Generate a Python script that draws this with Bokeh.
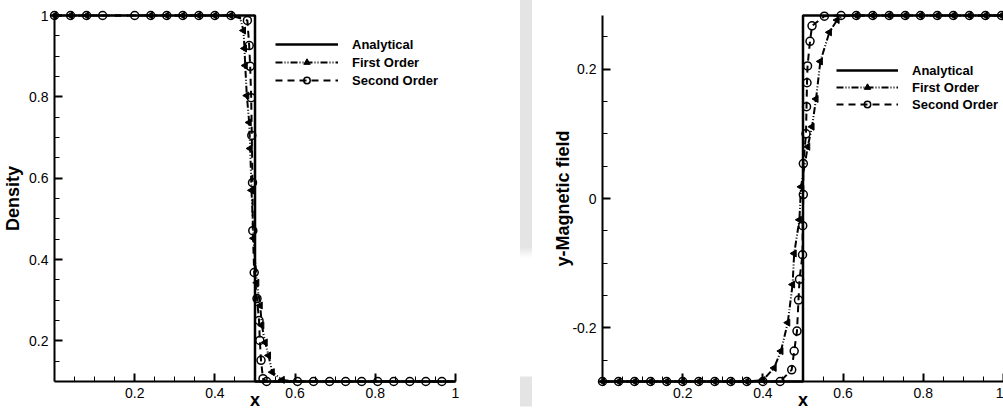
import numpy as np
from bokeh.plotting import figure
from bokeh.models import (Range1d, FixedTicker, CustomJSTickFormatter, Legend, LegendItem,
                          ColumnDataSource, CDSView, IndexFilter, Div)
from bokeh.layouts import row
from bokeh.embed import file_html
from bokeh.resources import INLINE

FONT = "Liberation Sans"

# ---------------- data: left panel (density) ----------------
x_dens_exact = [0.0, 0.5, 0.5, 1.0]
dens_exact = [1.0, 1.0, 0.1, 0.1]

x_dens_1 = [0.0, 0.04, 0.08, 0.12, 0.16, 0.20, 0.24, 0.28, 0.32, 0.36, 0.40, 0.44,
            0.462, 0.4713, 0.4738, 0.4756, 0.4796, 0.4855, 0.488, 0.4913, 0.4963,
            0.5045, 0.513, 0.517, 0.5254, 0.5337, 0.543, 0.568, 0.60, 1.0]
dens_1 = [1.0, 1.0, 1.0, 1.0, 1.0, 1.0, 1.0, 1.0, 1.0, 1.0, 1.0, 1.0,
          0.997, 0.963, 0.919, 0.877, 0.803, 0.737, 0.673, 0.570, 0.452,
          0.343, 0.287, 0.238, 0.196, 0.164, 0.123, 0.104, 0.1, 0.1]
dens_1_marks = [0, 1, 2, 6, 7, 8, 9, 10, 11, 13, 14, 15, 16, 17, 18, 19, 20,
                21, 22, 23, 24, 25, 26, 27]

x_dens_2 = [0.0, 0.04, 0.08, 0.12, 0.20, 0.24, 0.28, 0.32, 0.36, 0.40, 0.44,
            0.481, 0.4855, 0.488, 0.4905, 0.492, 0.4938, 0.4945, 0.498, 0.505,
            0.51, 0.512, 0.515, 0.52, 0.529,
            0.606, 0.646, 0.686, 0.726, 0.766, 0.806, 0.846, 0.886, 0.926, 0.966]
dens_2 = [1.0, 1.0, 1.0, 1.0, 1.0, 1.0, 1.0, 1.0, 1.0, 1.0, 1.0,
          0.988, 0.926, 0.875, 0.798, 0.705, 0.589, 0.471, 0.368, 0.304,
          0.25, 0.201, 0.152, 0.107, 0.1,
          0.1, 0.1, 0.1, 0.1, 0.1, 0.1, 0.1, 0.1, 0.1, 0.1]

# ---------------- data: right panel (y-magnetic field) ----------------
x_by_exact = [0.0, 0.5, 0.5, 1.0]
by_exact = [-0.283, -0.283, 0.283, 0.283]

x_by_1 = [0.0, 0.04, 0.08, 0.12, 0.16, 0.20, 0.24, 0.28, 0.32, 0.36,
          0.40, 0.428, 0.445, 0.462, 0.474, 0.478, 0.491, 0.495, 0.5118, 0.5225,
          0.5325, 0.5433, 0.5658, 0.585, 0.60,
          0.633, 0.674, 0.715, 0.755, 0.793, 0.835, 0.875, 0.915, 0.955, 0.995]
by_1 = [-0.283, -0.283, -0.283, -0.283, -0.283, -0.283, -0.283, -0.283, -0.283, -0.283,
        -0.281, -0.262, -0.236, -0.192, -0.133, -0.085, -0.033, 0.018, 0.080, 0.111,
        0.154, 0.212, 0.257, 0.276, 0.282,
        0.283, 0.283, 0.283, 0.283, 0.283, 0.283, 0.283, 0.283, 0.283, 0.283]
by_1_marks = [i for i in range(35) if i != 24]

x_by_2 = [0.0, 0.04, 0.08, 0.12, 0.16, 0.20, 0.24, 0.28, 0.32, 0.36, 0.40, 0.443,
          0.4718, 0.478, 0.485, 0.4888, 0.4913, 0.4988, 0.4993, 0.5008, 0.5008,
          0.5075, 0.5088, 0.51, 0.5113, 0.5175, 0.5225, 0.5533, 0.595,
          0.633, 0.674, 0.715, 0.755, 0.793, 0.835, 0.875, 0.915, 0.955, 0.995]
by_2 = [-0.283, -0.283, -0.283, -0.283, -0.283, -0.283, -0.283, -0.283, -0.283, -0.283, -0.283, -0.283,
        -0.265, -0.236, -0.205, -0.157, -0.125, -0.087, -0.042, 0.006, 0.054,
        0.100, 0.142, 0.179, 0.205, 0.243, 0.267, 0.282, 0.283,
        0.283, 0.283, 0.283, 0.283, 0.283, 0.283, 0.283, 0.283, 0.283, 0.283]

# ---------------- ticks ----------------
x_major = [0.2, 0.4, 0.6, 0.8, 1.0]
x_minor = [0.05, 0.1, 0.15, 0.25, 0.3, 0.35, 0.45, 0.5, 0.55, 0.65, 0.7, 0.75, 0.85, 0.9, 0.95]
dens_major = [0.2, 0.4, 0.6, 0.8, 1.0]
dens_minor = [0.15, 0.25, 0.3, 0.35, 0.45, 0.5, 0.55, 0.65, 0.7, 0.75, 0.85, 0.9, 0.95]
by_major = [-0.2, 0.0, 0.2]
by_minor = [-0.25, -0.15, -0.1, -0.05, 0.05, 0.1, 0.15, 0.25]

FMT = "return String(Math.round(tick*100)/100);"


def style_axis(ax, major, minor, label, label_standoff):
    ax.ticker = FixedTicker(ticks=major, minor_ticks=minor)
    ax.formatter = CustomJSTickFormatter(code=FMT)
    ax.axis_line_width = 2
    ax.axis_line_color = "black"
    ax.major_tick_in = 8
    ax.major_tick_out = 0
    ax.minor_tick_in = 5
    ax.minor_tick_out = 0
    ax.major_tick_line_width = 2
    ax.minor_tick_line_width = 1
    ax.major_tick_line_color = "black"
    ax.minor_tick_line_color = "black"
    ax.major_label_text_font = FONT
    ax.major_label_text_font_size = "14px"
    ax.major_label_text_color = "black"
    ax.major_label_standoff = 6
    ax.axis_label = label
    ax.axis_label_text_font = FONT
    ax.axis_label_text_font_style = "bold"
    ax.axis_label_text_font_size = "18px"
    ax.axis_label_text_color = "black"
    ax.axis_label_standoff = label_standoff


def panel(width, xr, yr, borders, xs, ys, marks1, ylabel, ymaj, ymin, ylab_standoff, leg_loc,
          glyph_w, leg_spacing):
    left, right, top, bottom = borders
    p = figure(width=width, height=412, x_range=Range1d(*xr), y_range=Range1d(*yr),
               output_backend="svg", toolbar_location=None, title=None,
               min_border_left=left, min_border_right=right,
               min_border_top=top, min_border_bottom=bottom)
    p.grid.visible = False
    p.outline_line_color = None
    p.background_fill_color = "white"
    p.border_fill_color = "white"

    (xe, x1, x2) = xs
    (ye, y1, y2) = ys

    se = ColumnDataSource(dict(x=xe, y=ye))
    s1 = ColumnDataSource(dict(x=x1, y=y1))
    s2 = ColumnDataSource(dict(x=x2, y=y2))

    r_e = p.line("x", "y", source=se, line_color="black", line_width=2.5)
    r_1 = p.line("x", "y", source=s1, line_color="black", line_width=2,
                 line_dash="7 2 1 2 1 2")
    r_2 = p.line("x", "y", source=s2, line_color="black", line_width=2,
                 line_dash="7 5")
    r_2m = p.scatter("x", "y", source=s2, marker="circle", size=8,
                     fill_alpha=0, line_color="black", line_width=1.5)
    r_1m = p.scatter("x", "y", source=s1, view=CDSView(filter=IndexFilter(indices=marks1)),
                     marker="triangle", angle=1.5707963, angle_units="rad", size=7,
                     fill_color="black", line_color="black", line_width=1)
    for r in (r_e, r_1, r_2, r_2m, r_1m):
        r.level = "overlay"

    style_axis(p.xaxis[0], x_major, x_minor, "x", -11)
    style_axis(p.yaxis[0], ymaj, ymin, ylabel, ylab_standoff)

    legend = Legend(items=[
        LegendItem(label="Analytical", renderers=[r_e]),
        LegendItem(label="First Order", renderers=[r_1, r_1m]),
        LegendItem(label="Second Order", renderers=[r_2, r_2m]),
    ], location=leg_loc)
    legend.glyph_width = glyph_w
    legend.glyph_height = 16
    legend.label_height = 16
    legend.label_standoff = 14
    legend.spacing = leg_spacing
    legend.padding = 0
    legend.margin = 0
    legend.border_line_alpha = 0
    legend.background_fill_alpha = 0
    legend.label_text_font = FONT
    legend.label_text_font_style = "bold"
    legend.label_text_font_size = "13px"
    legend.label_text_color = "black"
    p.add_layout(legend)
    return p


p1 = panel(520, (0.0, 1.0), (0.1, 1.0), (54, 65, 15, 31),
           (x_dens_exact, x_dens_1, x_dens_2), (dens_exact, dens_1, dens_2), dens_1_marks,
           "Density", dens_major, dens_minor, 3, (221, 293), 63, 2)

p2 = panel(471, (0.0, 1.0), (-0.283, 0.283), (70, 0, 13, 31),
           (x_by_exact, x_by_1, x_by_2), (by_exact, by_1, by_2), by_1_marks,
           "y-Magnetic field", by_major, by_minor, -4, (234, 269), 62, 1)

strip = Div(width=12, height=412, margin=0, text="",
            styles={"background": "linear-gradient(to bottom, #e4e4e4 0px, #e4e4e4 247px, "
                                  "#ffffff 258px, #ffffff 376px, #e4e4e4 377px, "
                                  "#e4e4e4 406px, #ffffff 407px)"})

layout = row(p1, strip, p2, spacing=0)
open("out.html", "w").write(file_html(layout, INLINE))
